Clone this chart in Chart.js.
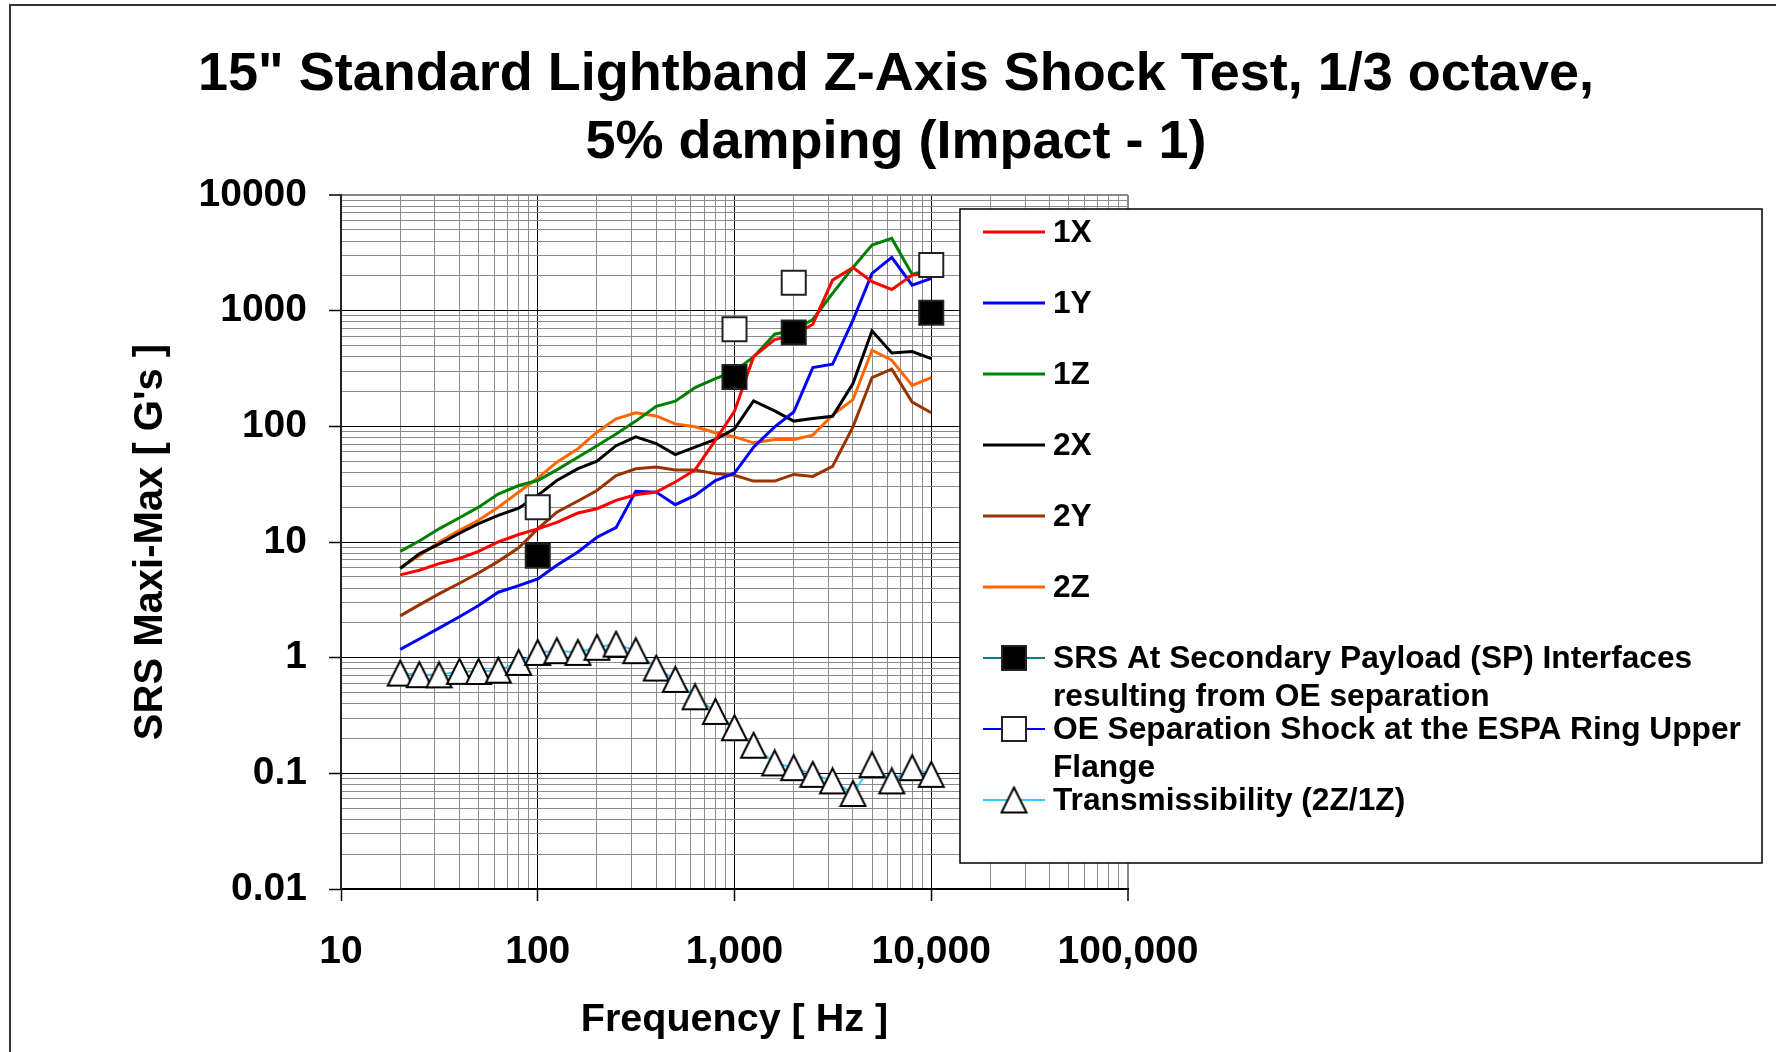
<!DOCTYPE html>
<html>
<head>
<meta charset="utf-8">
<script src="https://cdn.jsdelivr.net/npm/chart.js@4.4.1/dist/chart.umd.min.js"></script>
<style>
  html, body { margin: 0; padding: 0; background: #fff; }
  #wrap { width: 1776px; height: 1052px; position: relative; }
</style>
</head>
<body>
<div id="wrap"><canvas id="srsChart"></canvas></div>
<script>
const FONT = '"Liberation Sans", Arial, sans-serif';

// 1/3 octave centre frequencies [Hz]
const frequencies = [20, 25, 31.5, 40, 50, 63, 80, 100, 125, 160, 200, 250, 315, 400,
  500, 630, 800, 1000, 1250, 1600, 2000, 2500, 3150, 4000, 5000, 6300, 8000, 10000];

// SRS maxi-max [G's]
const series1X = [5.2, 5.7, 6.5, 7.2, 8.3, 10, 11.6, 13, 14.8, 17.8, 19.4, 22.9, 25.6, 27,
  33, 42, 76, 135, 400, 563, 610, 764, 1837, 2360, 1780, 1525, 2030, 2100];
const series1Y = [1.18, 1.45, 1.8, 2.26, 2.82, 3.68, 4.2, 4.8, 6.3, 8.2, 11, 13.3, 27.5, 27,
  21, 25.3, 34, 39.4, 66, 99, 133, 322, 344, 827, 2100, 2890, 1660, 1900];
const series1Z = [8.3, 10.2, 13, 16.2, 20, 26, 30.8, 34, 42, 54, 68, 86, 111, 149,
  165, 216, 259, 300, 398, 626, 678, 839, 1409, 2364, 3690, 4215, 2056, 2300];
const series2X = [5.9, 7.9, 9.6, 11.9, 14.4, 17, 19.6, 25.3, 34, 43, 50, 68, 81, 71,
  57, 66, 77, 95, 166, 136, 111, 117, 122, 234, 669, 431, 443, 385];
const series2Y = [2.3, 2.86, 3.56, 4.4, 5.4, 6.8, 8.9, 13, 18.1, 22.6, 27.9, 37.6, 43, 44.5,
  42, 42, 39, 37.7, 33.6, 33.6, 38.4, 36.9, 45, 99, 264, 312, 162, 131];
const series2Z = [6.0, 7.6, 10, 12.6, 15.4, 20, 27, 35.7, 49, 64, 89, 116, 131, 123,
  105, 99, 88, 81, 72, 77, 77, 84, 125, 170, 455, 373, 226, 264];
const transmissibility = [0.736, 0.713, 0.71, 0.762, 0.76, 0.78, 0.91, 1.11, 1.15, 1.11, 1.23, 1.31, 1.15, 0.814,
  0.649, 0.459, 0.343, 0.248, 0.175, 0.123, 0.112, 0.098, 0.086, 0.067, 0.119, 0.086, 0.112, 0.098];

// requirement points
const srsFreqs = [100, 1000, 2000, 10000];
const srsValues = [7.6, 267, 647, 958];
const oeFreqs = [100, 1000, 2000, 10000];
const oeValues = [20, 692, 1742, 2477];

// axes
const xTickValues = [10, 100, 1000, 10000, 100000];
const xTickLabels = ['10', '100', '1,000', '10,000', '100,000'];
const yTickValues = [0.01, 0.1, 1, 10, 100, 1000, 10000];
const yTickLabels = ['0.01', '0.1', '1', '10', '100', '1000', '10000'];

const chartTitle = ['15" Standard Lightband Z-Axis Shock Test, 1/3 octave,', '5% damping (Impact - 1)'];

const xy = (xs, ys) => xs.map((x, i) => ({ x: x, y: ys[i] }));
const isMajor = v => Math.abs(Math.log10(v) - Math.round(Math.log10(v))) < 1e-9;

function makeTriangle(size) {
  const c = document.createElement('canvas');
  c.width = size + 4;
  c.height = size + 4;
  const g = c.getContext('2d');
  g.beginPath();
  g.moveTo(c.width / 2, 2);
  g.lineTo(c.width - 2, c.height - 2);
  g.lineTo(2, c.height - 2);
  g.closePath();
  g.fillStyle = '#fff';
  g.fill();
  g.lineWidth = 2;
  g.strokeStyle = '#000';
  g.stroke();
  return c;
}
const triangle = makeTriangle(25);

function lineSet(label, values, color) {
  return {
    label: label, legendText: [label], data: xy(frequencies, values),
    borderColor: color, backgroundColor: color, borderWidth: 3,
    pointRadius: 0, tension: 0, order: 2
  };
}

const datasets = [
  lineSet('1X', series1X, '#FF0000'),
  lineSet('1Y', series1Y, '#0000FF'),
  lineSet('1Z', series1Z, '#008000'),
  lineSet('2X', series2X, '#000000'),
  lineSet('2Y', series2Y, '#993300'),
  lineSet('2Z', series2Z, '#FF6600'),
  {
    label: 'SRS At Secondary Payload (SP) Interfaces resulting from OE separation',
    legendText: ['SRS At Secondary Payload (SP) Interfaces', 'resulting from OE separation'],
    data: xy(srsFreqs, srsValues), showLine: false, borderColor: '#008080', borderWidth: 2,
    pointStyle: 'rect', pointRadius: 17, pointBackgroundColor: '#000', pointBorderColor: '#222',
    pointBorderWidth: 2, marker: 'filled', order: 0
  },
  {
    label: 'OE Separation Shock at the ESPA Ring Upper Flange',
    legendText: ['OE Separation Shock at the ESPA Ring Upper', 'Flange'],
    data: xy(oeFreqs, oeValues), showLine: false, borderColor: '#0000FF', borderWidth: 2,
    pointStyle: 'rect', pointRadius: 17, pointBackgroundColor: '#fff', pointBorderColor: '#222',
    pointBorderWidth: 2, marker: 'open', order: 0
  },
  {
    label: 'Transmissibility (2Z/1Z)',
    legendText: ['Transmissibility (2Z/1Z)'],
    data: xy(frequencies, transmissibility), borderColor: '#33CCFF', borderWidth: 2, tension: 0,
    pointStyle: triangle, pointRadius: 12, marker: 'triangle', order: 1
  }
];

function decadeTicks(scale) {
  const ticks = [];
  const e0 = Math.round(Math.log10(scale.min));
  const e1 = Math.round(Math.log10(scale.max));
  for (let e = e0; e < e1; e++) {
    for (let m = 1; m < 10; m++) ticks.push({ value: parseFloat((m * Math.pow(10, e)).toPrecision(6)) });
  }
  ticks.push({ value: scale.max });
  scale.ticks = ticks;
}

function labelFor(values, labels) {
  return v => {
    const i = values.findIndex(t => Math.abs(t - v) / t < 1e-6);
    return i >= 0 ? labels[i] : '';
  };
}

function gridOpts(edgeValue) {
  return {
    color: c => {
      if (!c.tick) return '#8c8c8c';
      if (!isMajor(c.tick.value)) return '#8c8c8c';
      return Math.abs(c.tick.value - edgeValue) / edgeValue < 1e-6 ? '#888' : '#000';
    },
    lineWidth: c => (c.tick && Math.abs(c.tick.value - edgeValue) / edgeValue < 1e-6) ? 2 : 1,
    tickColor: c => (c.tick && isMajor(c.tick.value)) ? '#000' : 'rgba(0,0,0,0)',
    tickLength: 12,
    tickWidth: 1.5,
    drawTicks: true
  };
}

const decorPlugin = {
  id: 'decor',
  beforeDraw(chart) {
    const ctx = chart.ctx;
    ctx.save();
    ctx.fillStyle = '#fff';
    ctx.fillRect(0, 0, chart.width, chart.height);
    ctx.strokeStyle = '#333';
    ctx.lineWidth = 2;
    ctx.strokeRect(10, 5, chart.width + 40, chart.height + 40);
    ctx.restore();
  },
  afterDraw(chart) {
    const ctx = chart.ctx;
    ctx.save();
    ctx.fillStyle = '#000';
    ctx.font = 'bold 54px ' + FONT;
    ctx.textAlign = 'center';
    ctx.textBaseline = 'middle';
    chartTitle.forEach((t, i) => ctx.fillText(t, 896, 75 + i * 68));

    // legend box
    const bx = 960, by = 209, bw = 802, bh = 654;
    ctx.fillStyle = '#fff';
    ctx.fillRect(bx, by, bw, bh);
    ctx.strokeStyle = '#000';
    ctx.lineWidth = 1.5;
    ctx.strokeRect(bx, by, bw, bh);

    ctx.font = 'bold 31.7px ' + FONT;
    ctx.textAlign = 'left';
    chart.data.datasets.forEach((ds, i) => {
      const y = 232 + i * 71;
      ctx.strokeStyle = ds.borderColor;
      ctx.lineWidth = ds.borderWidth;
      ctx.beginPath();
      ctx.moveTo(983, y);
      ctx.lineTo(1045, y);
      ctx.stroke();
      if (ds.marker === 'filled' || ds.marker === 'open') {
        ctx.fillStyle = ds.marker === 'filled' ? '#000' : '#fff';
        ctx.fillRect(1002, y - 12, 24, 24);
        ctx.strokeStyle = '#222';
        ctx.lineWidth = 2;
        ctx.strokeRect(1002, y - 12, 24, 24);
      } else if (ds.marker === 'triangle') {
        ctx.drawImage(triangle, 1014 - triangle.width / 2, y - triangle.height / 2);
      }
      ctx.fillStyle = '#000';
      ds.legendText.forEach((t, k) => ctx.fillText(t, 1053, y + 1 + k * 38));
    });
    ctx.restore();
  }
};

new Chart(document.getElementById('srsChart'), {
  type: 'line',
  data: { datasets: datasets },
  plugins: [decorPlugin],
  options: {
    responsive: true,
    maintainAspectRatio: false,
    animation: false,
    events: [],
    layout: { padding: { top: 195, right: 648, bottom: 0, left: 0 } },
    plugins: { legend: { display: false }, tooltip: { enabled: false }, title: { display: false } },
    scales: {
      x: {
        type: 'logarithmic',
        min: 10,
        max: 100000,
        afterBuildTicks: decadeTicks,
        afterFit: s => { s.height = 163; },
        grid: gridOpts(100000),
        border: { display: true, color: '#000', width: 2 },
        ticks: {
          autoSkip: false, maxRotation: 0, padding: 28, color: '#000',
          font: { family: FONT, size: 39, weight: 'bold' },
          callback: labelFor(xTickValues, xTickLabels)
        },
        title: {
          display: true, text: 'Frequency [ Hz ]', color: '#000',
          font: { family: FONT, size: 39.5, weight: 'bold' },
          padding: { top: 0, bottom: 8 }
        }
      },
      y: {
        type: 'logarithmic',
        min: 0.01,
        max: 10000,
        afterBuildTicks: decadeTicks,
        afterFit: s => { s.width = 341; },
        grid: gridOpts(10000),
        border: { display: true, color: '#222', width: 2 },
        ticks: {
          autoSkip: false, padding: 22, color: '#000',
          font: { family: FONT, size: 39, weight: 'bold' },
          callback: labelFor(yTickValues, yTickLabels)
        },
        title: {
          display: true, text: "SRS Maxi-Max [ G's ]", color: '#000',
          font: { family: FONT, size: 40, weight: 'bold' },
          padding: { top: 127, bottom: 0 }
        }
      }
    }
  }
});
</script>
</body>
</html>
